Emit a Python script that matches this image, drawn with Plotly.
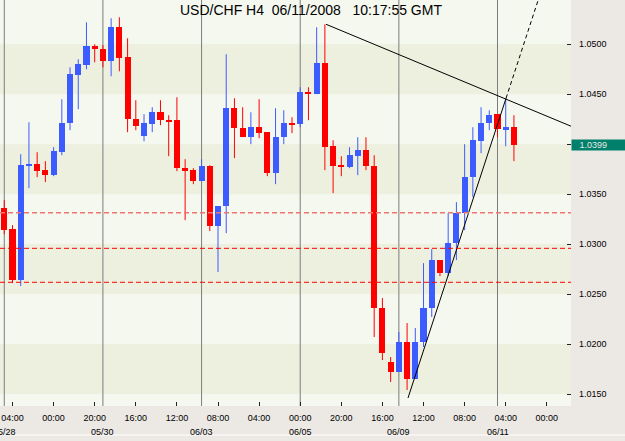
import plotly.graph_objects as go

# ---------------- data ----------------
opens = [1.0336, 1.0315, 1.0264, 1.0378, 1.0380, 1.0374, 1.0369, 1.0392, 1.0421, 1.0469,
         1.0479, 1.0498, 1.0495, 1.0483, 1.0517, 1.0487, 1.0425, 1.0408, 1.0420, 1.0432,
         1.0424, 1.0424, 1.0376, 1.0374, 1.0363, 1.0378, 1.0318, 1.0338, 1.0436, 1.0416,
         1.0407, 1.0417, 1.0412, 1.0371, 1.0407, 1.0421, 1.0420, 1.0452, 1.0450, 1.0481,
         1.0398, 1.0379, 1.0377, 1.0388, 1.0394, 1.0378, 1.0236, 1.0182, 1.0172, 1.0202,
         1.0165, 1.0202, 1.0236, 1.0284, 1.0271, 1.0301, 1.0331, 1.0367, 1.0403, 1.0421,
         1.0430, 1.0415, 1.0417]
highs = [1.0344, 1.0319, 1.0390, 1.0422, 1.0392, 1.0383, 1.0397, 1.0445, 1.0477, 1.0485,
         1.0522, 1.0500, 1.0499, 1.0526, 1.0527, 1.0506, 1.0444, 1.0430, 1.0437, 1.0444,
         1.0429, 1.0447, 1.0385, 1.0376, 1.0385, 1.0379, 1.0338, 1.0490, 1.0446, 1.0437,
         1.0432, 1.0445, 1.0412, 1.0436, 1.0434, 1.0427, 1.0457, 1.0457, 1.0517, 1.0520,
         1.0404, 1.0388, 1.0397, 1.0407, 1.0407, 1.0389, 1.0246, 1.0187, 1.0212, 1.0221,
         1.0216, 1.0281, 1.0295, 1.0284, 1.0331, 1.0342, 1.0400, 1.0417, 1.0437, 1.0434,
         1.0430, 1.0445, 1.0429]
lows = [1.0310, 1.0261, 1.0258, 1.0356, 1.0367, 1.0362, 1.0368, 1.0389, 1.0414, 1.0435,
        1.0475, 1.0482, 1.0477, 1.0468, 1.0473, 1.0412, 1.0414, 1.0403, 1.0412, 1.0419,
        1.0388, 1.0373, 1.0324, 1.0360, 1.0363, 1.0313, 1.0272, 1.0311, 1.0386, 1.0407,
        1.0400, 1.0406, 1.0368, 1.0360, 1.0400, 1.0411, 1.0417, 1.0424, 1.0450, 1.0374,
        1.0351, 1.0368, 1.0376, 1.0369, 1.0374, 1.0207, 1.0184, 1.0162, 1.0172, 1.0154,
        1.0165, 1.0197, 1.0227, 1.0268, 1.0268, 1.0284, 1.0314, 1.0347, 1.0391, 1.0414,
        1.0407, 1.0398, 1.0383]
closes = [1.0314, 1.0264, 1.0379, 1.0380, 1.0373, 1.0369, 1.0393, 1.0421, 1.0470, 1.0480,
          1.0498, 1.0495, 1.0483, 1.0517, 1.0486, 1.0425, 1.0418, 1.0421, 1.0432, 1.0424,
          1.0423, 1.0376, 1.0373, 1.0363, 1.0378, 1.0318, 1.0338, 1.0436, 1.0416, 1.0407,
          1.0417, 1.0411, 1.0371, 1.0407, 1.0421, 1.0420, 1.0452, 1.0450, 1.0481, 1.0397,
          1.0378, 1.0377, 1.0389, 1.0394, 1.0378, 1.0236, 1.0191, 1.0172, 1.0202, 1.0165,
          1.0202, 1.0236, 1.0284, 1.0271, 1.0301, 1.0331, 1.0367, 1.0404, 1.0421, 1.0429,
          1.0415, 1.0417, 1.0399]

time_tick_bars = [1, 6, 11, 16, 21, 26, 31, 36, 41, 46, 51, 56, 61, 66]
time_tick_labels = ["04:00", "00:00", "20:00", "16:00", "12:00", "08:00", "04:00",
                    "00:00", "20:00", "16:00", "12:00", "08:00", "04:00", "00:00"]
date_bars = [0, 12, 24, 36, 48, 60]
date_labels = ["05/28", "05/30", "06/03", "06/05", "06/09", "06/11"]

price_ticks = [1.0150, 1.0200, 1.0250, 1.0300, 1.0350, 1.0400, 1.0450, 1.0500]
current_price = 1.0399

level_lines = [1.03314, 1.02958, 1.02618]

trend1_x = [39.14, 68.94]
trend1_y = [1.0520, 1.0418]
trend2_x = [49.11, 61.04]
trend2_y = [1.0146, 1.0446]
trend2_ext_x = [61.04, 66.5]
trend2_ext_y = [1.0446, 1.05833]

title_text = "USD/CHF H4\u00a0\u00a006/11/2008\u00a0\u00a0\u00a010:17:55 GMT"

# ---------------- styling ----------------
FONT = "Liberation Sans, Arial, sans-serif"
BLUE = "#3d5cff"
RED = "#ff0000"
X_RANGE = [-0.52, 68.94]
Y_RANGE = [1.01380, 1.05443]

n = len(opens)
xs = list(range(n))
up = [c >= o for o, c in zip(opens, closes)]

fig = go.Figure()

# wicks
for is_up, col in ((True, BLUE), (False, RED)):
    wx, wy = [], []
    for i in xs:
        if up[i] == is_up:
            wx += [i, i, None]
            wy += [lows[i], highs[i], None]
    fig.add_trace(go.Scatter(x=wx, y=wy, mode="lines",
                             line=dict(color=col, width=1), hoverinfo="skip",
                             showlegend=False))

# bodies
bases = [min(o, c) for o, c in zip(opens, closes)]
heights = [max(abs(c - o), 0.00016) for o, c in zip(opens, closes)]
fig.add_trace(go.Bar(x=xs, y=heights, base=bases, width=0.74,
                     marker=dict(color=[BLUE if u else RED for u in up], line=dict(width=0)),
                     hoverinfo="skip", showlegend=False))

# trend lines
fig.add_trace(go.Scatter(x=trend1_x, y=trend1_y, mode="lines",
                         line=dict(color="#000000", width=1), hoverinfo="skip", showlegend=False))
fig.add_trace(go.Scatter(x=trend2_x, y=trend2_y, mode="lines",
                         line=dict(color="#000000", width=1), hoverinfo="skip", showlegend=False))
fig.add_trace(go.Scatter(x=trend2_ext_x, y=trend2_ext_y, mode="lines",
                         line=dict(color="#000000", width=1, dash="4px,3px"),
                         hoverinfo="skip", showlegend=False))

shapes = []
# alternating horizontal bands
for i in range(len(price_ticks) - 1):
    if i % 2 == 0:
        shapes.append(dict(type="rect", xref="paper", yref="y", x0=0, x1=1,
                           y0=price_ticks[i], y1=price_ticks[i + 1],
                           fillcolor="#edf0df", line=dict(width=0), layer="below"))
# day separators
for b in date_bars:
    shapes.append(dict(type="line", xref="x", yref="paper", x0=b, x1=b, y0=0, y1=1,
                       line=dict(color="#7c7c7c", width=1), layer="below"))
# horizontal levels
for k, lv in enumerate(level_lines):
    shapes.append(dict(type="line", xref="paper", yref="y", x0=0, x1=1, y0=lv, y1=lv,
                       line=dict(color="#f07474" if k == 0 else RED,
                                 width=1.6 if k == 0 else 1, dash="5px,3px"),
                       layer="above"))
# bottom window border line
shapes.append(dict(type="line", xref="paper", yref="paper", x0=0, x1=1.1,
                   y0=-0.0714, y1=-0.0714, line=dict(color="#ffffff", width=1)))

annotations = [dict(text=title_text, xref="paper", yref="paper", x=0.5455, y=0.975,
                    xanchor="center", yanchor="middle", showarrow=False,
                    font=dict(family=FONT, size=14, color="#000000"))]
for b, lab in zip(date_bars, date_labels):
    annotations.append(dict(text=lab, xref="x", yref="paper", x=b, y=0, yshift=-26,
                            xanchor="center", yanchor="middle", showarrow=False,
                            font=dict(family=FONT, size=9, color="#000000")))
annotations.append(dict(text="\u00a0\u00a0\u00a0" + f"{current_price:.4f}", xref="paper", yref="y",
                        x=1, y=current_price, xanchor="left", yanchor="middle",
                        showarrow=False, width=54, height=10, align="left",
                        bgcolor="#00806a", borderpad=0,
                        font=dict(family=FONT, size=9, color="#e8e8e8")))

ytext = ["" if abs(v - round(current_price, 2)) < 1e-9 else f"{v:.4f}" for v in price_ticks]

fig.update_layout(
    width=625, height=441,
    margin=dict(l=0, r=54, t=0, b=35),
    paper_bgcolor="#ece9e5",
    plot_bgcolor="#f5f8ee",
    showlegend=False,
    hovermode=False,
    bargap=0,
    shapes=shapes,
    annotations=annotations,
    xaxis=dict(range=X_RANGE, tickvals=time_tick_bars, ticktext=time_tick_labels,
               ticks="inside", ticklen=4, tickcolor="#222222", showgrid=False,
               zeroline=False, showline=False, fixedrange=True, ticklabelstandoff=5,
               tickfont=dict(family=FONT, size=9, color="#000000")),
    yaxis=dict(range=Y_RANGE, side="right", tickvals=price_ticks, ticktext=ytext,
               ticks="inside", ticklen=4, tickcolor="#222222", showgrid=False,
               zeroline=False, showline=False, fixedrange=True, ticklabelstandoff=7,
               tickfont=dict(family=FONT, size=9, color="#000000")),
)

fig.write_html("out.html")
